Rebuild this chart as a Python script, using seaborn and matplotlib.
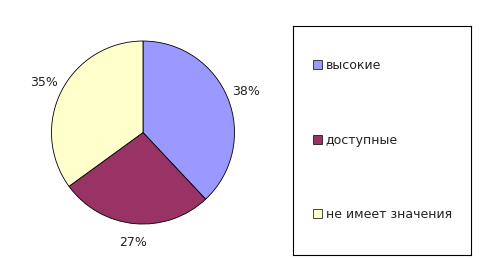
import matplotlib
matplotlib.use("Agg")
import matplotlib.pyplot as plt
import seaborn as sns
from matplotlib.patches import Patch

categories = ["высокие", "доступные", "не имеет значения"]
values = [38, 27, 35]
colors = ["#9999FF", "#993366", "#FFFFCC"]

sns.set_theme(style="white")
plt.rcParams["font.family"] = ["DejaVu Sans"]

fig = plt.figure(figsize=(5.0, 2.59), dpi=100)
fig.patch.set_facecolor("white")

ax = fig.add_axes([0.103, 0.135, 0.366, 0.7066])
wedges, texts, autotexts = ax.pie(
    values, colors=colors, startangle=90, counterclock=False,
    autopct="%d%%", pctdistance=1.21,
    wedgeprops=dict(edgecolor="black", linewidth=0.6),
    textprops=dict(fontsize=9, color="#222222"),
)
ax.set_xlim(-1, 1)
ax.set_ylim(-1, 1)
ax.set_aspect("equal")
ax.axis("off")

lax = fig.add_axes([0.586, 0.0154, 0.356, 0.884])
lax.set_xticks([])
lax.set_yticks([])
for s in lax.spines.values():
    s.set_visible(True)
    s.set_color("black")
    s.set_linewidth(0.8)
lax.set_facecolor("white")

handles = [Patch(facecolor=c, edgecolor="black", linewidth=0.5) for c in colors]
leg = lax.legend(handles, categories, loc="upper left", bbox_to_anchor=(0.11, 0.855),
                 frameon=False, fontsize=9, handlelength=0.75, handleheight=0.75,
                 handletextpad=0.3, labelspacing=4.9, borderaxespad=0, borderpad=0)
for t in leg.get_texts():
    t.set_color("#222222")

fig.savefig("out.png", dpi=100, facecolor="white")
